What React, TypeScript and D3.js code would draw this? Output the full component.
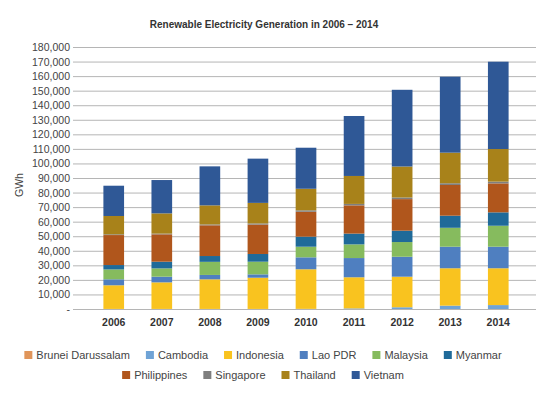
import React, { useRef, useEffect } from "react";
import * as d3 from "d3";

const years = ["2006", "2007", "2008", "2009", "2010", "2011", "2012", "2013", "2014"];

const countries = [
  "Brunei Darussalam",
  "Cambodia",
  "Indonesia",
  "Lao PDR",
  "Malaysia",
  "Myanmar",
  "Philippines",
  "Singapore",
  "Thailand",
  "Vietnam",
];

const colors = [
  "#E0955A",
  "#6FA3D6",
  "#F9C31F",
  "#4F7FC0",
  "#86BB5E",
  "#1F6A99",
  "#B0561C",
  "#7F7F7F",
  "#A8821A",
  "#2F5896",
];

// GWh
const brunei = [0, 0, 0, 0, 0, 0, 0, 0, 0];
const cambodia = [50, 50, 50, 50, 100, 400, 1200, 2300, 2700];
const indonesia = [16250, 18250, 20350, 21450, 27200, 21400, 21000, 25700, 25300];
const lao = [4100, 3900, 3000, 2300, 8200, 13200, 13700, 14800, 14800];
const malaysia = [6800, 5700, 9000, 8700, 7300, 9400, 10100, 13000, 14400];
const myanmar = [3000, 4600, 4000, 5300, 6900, 7400, 7800, 8300, 9200];
const philippines = [20600, 18800, 21100, 20200, 17100, 19400, 21700, 21100, 19900];
const singapore = [500, 500, 600, 800, 1000, 1000, 1100, 1200, 1200];
const thailand = [12600, 13900, 13100, 14100, 14800, 19200, 21300, 21000, 22400];
const vietnam = [20800, 22900, 26800, 30400, 28200, 41200, 52700, 52200, 60000];

const series = [brunei, cambodia, indonesia, lao, malaysia, myanmar, philippines, singapore, thailand, vietnam];

const yTicks = d3.range(0, 180001, 10000);

const W = 546;
const H = 396;

export default function App() {
  const ref = useRef<SVGSVGElement>(null);

  useEffect(() => {
    const svg = d3.select(ref.current);
    svg.selectAll("*").remove();
    const font = "'Liberation Sans', Arial, sans-serif";

    const left = 76, right = 536, top = 47, bottom = 309;

    const rows = years.map((yr, i) => {
      const r: any = { year: yr };
      countries.forEach((c, j) => (r[c] = series[j][i]));
      return r;
    });
    const stacked = d3.stack().keys(countries)(rows);

    const x = d3.scaleBand().domain(years).range([left, right]).padding(0.57);
    const y = d3.scaleLinear().domain([0, 180000]).range([bottom, top]);

    // title
    svg
      .append("text")
      .attr("x", 264)
      .attr("y", 28)
      .attr("text-anchor", "middle")
      .attr("font-family", font)
      .attr("font-weight", "bold")
      .attr("font-size", 10)
      .attr("fill", "#333")
      .text("Renewable Electricity Generation in 2006 \u2013 2014");

    // grid
    svg
      .append("g")
      .selectAll("line")
      .data(yTicks)
      .join("line")
      .attr("x1", left - 3)
      .attr("x2", right)
      .attr("y1", (d) => y(d) + 0.5)
      .attr("y2", (d) => y(d) + 0.5)
      .attr("stroke", "#b5b5b5")
      .attr("stroke-width", 1);

    svg
      .append("g")
      .selectAll("text")
      .data(yTicks)
      .join("text")
      .attr("x", left - 6)
      .attr("y", (d) => y(d) + 4)
      .attr("text-anchor", "end")
      .attr("font-family", font)
      .attr("font-size", 10.5)
      .attr("fill", "#444")
      .text((d) => (d === 0 ? "-" : d3.format(",")(d)));

    svg
      .append("text")
      .attr("transform", "translate(23,185) rotate(-90)")
      .attr("text-anchor", "middle")
      .attr("font-family", font)
      .attr("font-size", 10.5)
      .attr("fill", "#444")
      .text("GWh");

    // bars
    svg
      .append("g")
      .selectAll("g")
      .data(stacked)
      .join("g")
      .attr("fill", (d, i) => colors[i])
      .selectAll("rect")
      .data((d) => d)
      .join("rect")
      .attr("x", (d: any) => x(d.data.year)!)
      .attr("width", x.bandwidth())
      .attr("y", (d) => y(d[1]))
      .attr("height", (d) => y(d[0]) - y(d[1]));

    // x labels
    svg
      .append("g")
      .selectAll("text")
      .data(years)
      .join("text")
      .attr("x", (d) => x(d)! + x.bandwidth() / 2)
      .attr("y", 326)
      .attr("text-anchor", "middle")
      .attr("font-family", font)
      .attr("font-weight", "bold")
      .attr("font-size", 10.5)
      .attr("fill", "#333")
      .text((d) => d);

    // legend, two centred rows
    const legendRows = [countries.slice(0, 6), countries.slice(6)];
    legendRows.forEach((row, ri) => {
      const g = svg.append("g");
      let cx = 0;
      row.forEach((c) => {
        const idx = countries.indexOf(c);
        g.append("rect")
          .attr("x", cx)
          .attr("y", ri * 20 - 8)
          .attr("width", 8)
          .attr("height", 8)
          .attr("fill", colors[idx]);
        const t = g
          .append("text")
          .attr("x", cx + 12)
          .attr("y", ri * 20)
          .attr("font-family", font)
          .attr("font-size", 11)
          .attr("fill", "#444")
          .text(c);
        cx += 12 + (t.node() as SVGTextElement).getComputedTextLength() + 16;
      });
      const w = cx - 16;
      g.attr("transform", `translate(${263 - w / 2},359)`);
    });
  }, []);

  return (
    <svg ref={ref} width={W} height={H} style={{ display: "block", position: "absolute", left: 0, top: 0 }} />
  );
}
